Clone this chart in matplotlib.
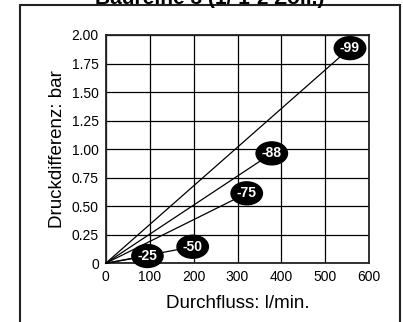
import matplotlib
matplotlib.use("Agg")
import matplotlib.pyplot as plt
from matplotlib.patches import Rectangle

plt.rcParams['font.family'] = ['Liberation Sans', 'DejaVu Sans']

title = "Baureihe 3 (1/ 1-2 Zoll.)"
labels = ['-25', '-50', '-75', '-88', '-99']
flow_end = [95, 198, 321, 378, 556]
dp_end = [0.064, 0.145, 0.613, 0.963, 1.885]
xticks = [0, 100, 200, 300, 400, 500, 600]
xticklabels = ['0', '100', '200', '300', '400', '500', '600']
yticks = [0, 0.25, 0.5, 0.75, 1.0, 1.25, 1.5, 1.75, 2.0]
yticklabels = ['0', '0.25', '0.50', '0.75', '1.00', '1.25', '1.50', '1.75', '2.00']

W, H = 403, 322
fig = plt.figure(figsize=(W/100, H/100), dpi=100)
ax = fig.add_axes([105.7/W, 1-263.3/H, (369.3-105.7)/W, (263.3-35)/H])

for lab, x, y in zip(labels, flow_end, dp_end):
    ax.plot([0, x], [0, y], color='black', lw=0.9, zorder=3, clip_on=False)
    ax.text(x, y, lab, color='white', fontsize=10, fontweight='bold',
            ha='center', va='center', zorder=5, clip_on=False,
            bbox=dict(boxstyle='ellipse,pad=0.08', fc='black', ec='black'))

ax.set_xlim(0, 600)
ax.set_ylim(0, 2.0)
ax.set_xticks(xticks)
ax.set_xticklabels(xticklabels)
ax.set_yticks(yticks)
ax.set_yticklabels(yticklabels)
ax.tick_params(length=0, labelsize=10, pad=5)
ax.grid(True, color='black', lw=0.9)
for s in ax.spines.values():
    s.set_linewidth(1.3)
    s.set_color('#222222')
ax.set_xlabel('Durchfluss: l/min.', fontsize=13.5, labelpad=8)
ax.set_ylabel('Druckdifferenz: bar', fontsize=13.5, labelpad=4)

fig.patches.append(Rectangle((19.5/W, -0.1), (400-19.5)/W, 1.1 - 5/H,
                             transform=fig.transFigure, fill=False,
                             ec='#222222', lw=1.5))
fig.text(210/W, 1-3.5/H, title, fontsize=15, fontweight='bold',
         ha='center', va='baseline')

fig.savefig('out.png', dpi=100)
